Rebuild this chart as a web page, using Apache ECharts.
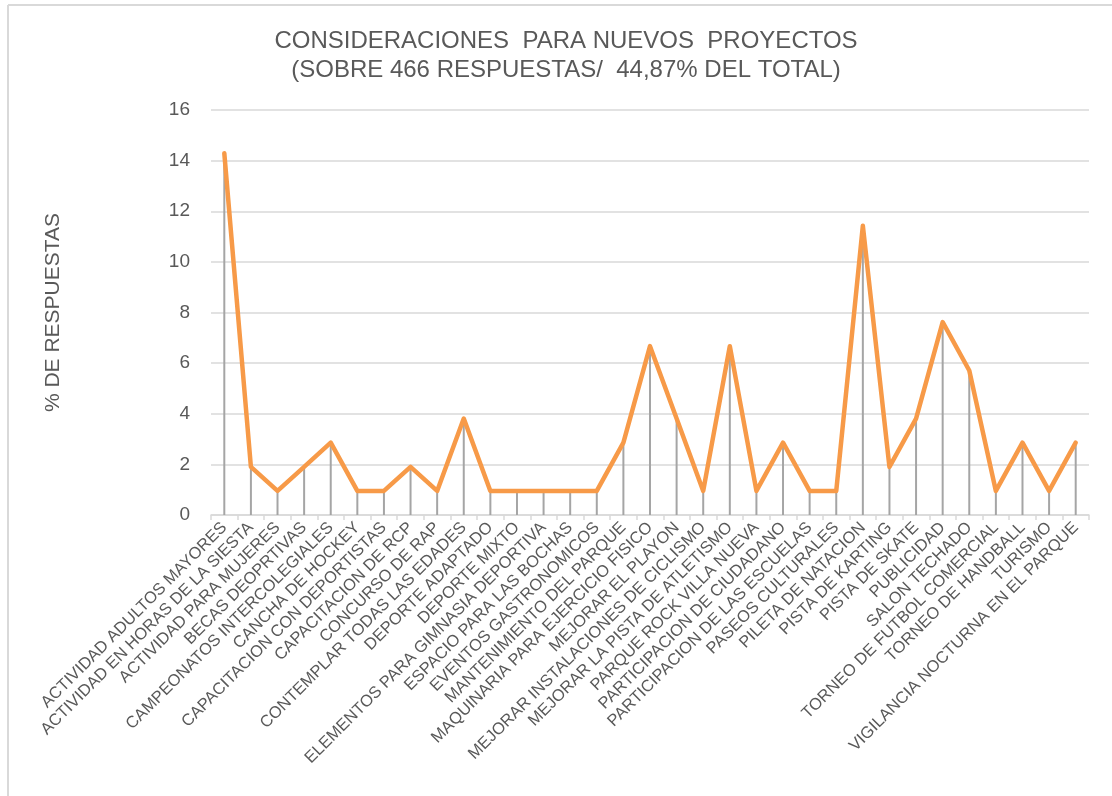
<!DOCTYPE html>
<html>
<head>
<meta charset="utf-8">
<script src="https://cdn.jsdelivr.net/npm/echarts@6/dist/echarts.min.js"></script>
<style>
html,body{margin:0;padding:0;background:#fff;}
#c{width:1112px;height:796px;}
</style>
</head>
<body>
<div id="c"></div>
<script>
const categories = [
  "ACTIVIDAD ADULTOS MAYORES",
  "ACTIVIDAD EN HORAS DE LA SIESTA",
  "ACTIVIDAD PARA MUJERES",
  "BECAS DEOPRTIVAS",
  "CAMPEONATOS INTERCOLEGIALES",
  "CANCHA DE HOCKEY",
  "CAPACITACION CON DEPORTISTAS",
  "CAPACITACION DE RCP",
  "CONCURSO DE RAP",
  "CONTEMPLAR TODAS LAS EDADES",
  "DEPORTE ADAPTADO",
  "DEPORTE MIXTO",
  "ELEMENTOS PARA GIMNASIA DEPORTIVA",
  "ESPACIO PARA LAS BOCHAS",
  "EVENTOS GASTRONOMICOS",
  "MANTENIMIENTO DEL PARQUE",
  "MAQUINARIA PARA EJERCICIO FISICO",
  "MEJORAR EL PLAYON",
  "MEJORAR INSTALACIONES DE CICLISMO",
  "MEJORAR LA PISTA DE ATLETISMO",
  "PARQUE ROCK VILLA NUEVA",
  "PARTICIPACION DE CIUDADANO",
  "PARTICIPACION DE LAS ESCUELAS",
  "PASEOS CULTURALES",
  "PILETA DE NATACION",
  "PISTA DE KARTING",
  "PISTA DE SKATE",
  "PUBLICIDAD",
  "SALON TECHADO",
  "TORNEO DE FUTBOL COMERCIAL",
  "TORNEO DE HANDBALL",
  "TURISMO",
  "VIGILANCIA NOCTURNA EN EL PARQUE"
];
const percentages = [
  14.29, 1.90, 0.95, 1.90, 2.86, 0.95, 0.95, 1.90, 0.95, 3.81,
  0.95, 0.95, 0.95, 0.95, 0.95, 2.86, 6.67, 3.81, 0.95, 6.67,
  0.95, 2.86, 0.95, 0.95, 11.43, 1.90, 3.81, 7.62, 5.71, 0.95,
  2.86, 0.95, 2.86
];
const yTicks = [0, 2, 4, 6, 8, 10, 12, 14, 16];
const titleLines = ["CONSIDERACIONES  PARA NUEVOS  PROYECTOS", "(SOBRE 466 RESPUESTAS/  44,87% DEL TOTAL)"];
const yAxisTitle = "% DE RESPUESTAS";

const chart = echarts.init(document.getElementById('c'), null, {renderer: 'canvas'});
const font = "'Liberation Sans', Arial, sans-serif";
chart.setOption({
  animation: false,
  backgroundColor: '#ffffff',
  title: {
    text: titleLines.join('\n'),
    left: 561,
    textAlign: 'center',
    top: 22,
    textStyle: {fontFamily: font, fontSize: 24, fontWeight: 'normal', color: '#595959', lineHeight: 29}
  },
  graphic: [
    {type: 'line', shape: {x1: 8, y1: 5, x2: 1112, y2: 5}, style: {stroke: '#d9d9d9', lineWidth: 2}},
    {type: 'line', shape: {x1: 8, y1: 5, x2: 8, y2: 796}, style: {stroke: '#d9d9d9', lineWidth: 2}}
  ],
  grid: {left: 211, right: 23, top: 110, bottom: 281, containLabel: false},
  xAxis: {
    type: 'category',
    data: categories,
    boundaryGap: true,
    axisLine: {show: true, lineStyle: {color: '#d9d9d9', width: 1.5}},
    axisTick: {show: true, alignWithLabel: false, length: 5, lineStyle: {color: '#d9d9d9', width: 1.5}},
    axisLabel: {interval: 0, rotate: 45, margin: 10, fontFamily: font, fontSize: 16.5, color: '#595959'}
  },
  yAxis: {
    type: 'value',
    min: yTicks[0],
    max: yTicks[yTicks.length - 1],
    interval: 2,
    name: yAxisTitle,
    nameLocation: 'middle',
    nameGap: 147,
    nameRotate: 90,
    nameTextStyle: {fontFamily: font, fontSize: 21, color: '#595959'},
    axisLine: {show: false},
    axisTick: {show: false},
    splitLine: {lineStyle: {color: '#d9d9d9', width: 1.5}},
    axisLabel: {fontFamily: font, fontSize: 19, color: '#595959', margin: 21}
  },
  series: [
    {
      type: 'bar',
      data: percentages,
      barWidth: 2,
      itemStyle: {color: '#a5a5a5'},
      z: 1,
      silent: true
    },
    {
      type: 'line',
      data: percentages,
      symbol: 'none',
      lineStyle: {color: '#f79a48', width: 4.5, join: 'round', cap: 'round'},
      z: 3
    }
  ]
});
</script>
</body>
</html>
